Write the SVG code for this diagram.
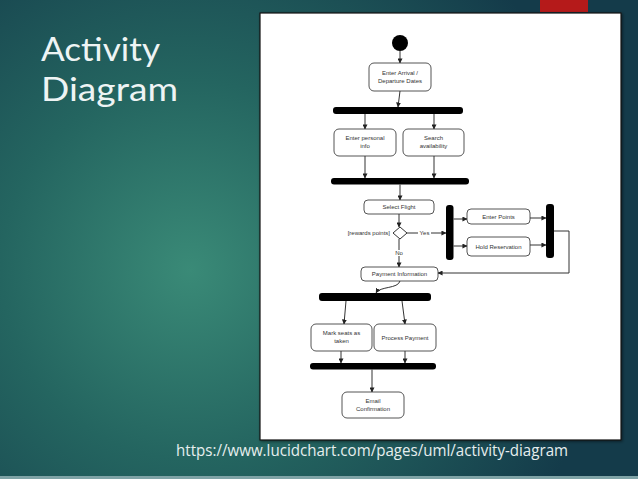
<svg xmlns="http://www.w3.org/2000/svg" width="638" height="479" viewBox="0 0 638 479">
<defs>
<radialGradient id="bg" gradientUnits="userSpaceOnUse" cx="190" cy="270" r="420">
<stop offset="0" stop-color="#3a8a77"/>
<stop offset="0.45" stop-color="#246560"/>
<stop offset="1" stop-color="#143b4a"/>
</radialGradient>
<marker id="ar" viewBox="0 0 6 6" refX="5.5" refY="3" markerWidth="5" markerHeight="5" orient="auto" markerUnits="userSpaceOnUse">
<path d="M0,0 L6,3 L0,6 Z" fill="#222"/>
</marker>
<filter id="sh" x="-5%" y="-5%" width="110%" height="110%">
<feDropShadow dx="1" dy="1" stdDeviation="1.5" flood-color="#000" flood-opacity="0.5"/>
</filter>
</defs>
<style>
.title{font-family:Lato,"Open Sans",sans-serif;font-size:33px;fill:#eef4f4}
.url{font-family:"Open Sans","Noto Sans",sans-serif;font-size:16px;fill:#e6eeee}
.box{fill:#fff;stroke:#555;stroke-width:1}
.bar{fill:#000}
.t{font-family:"Liberation Sans",Arial,sans-serif;font-size:6px;fill:#333;text-anchor:middle}
.lbl{font-family:"Liberation Sans",Arial,sans-serif;font-size:6px;fill:#333}
.c{fill:none;stroke:#333;stroke-width:1}
</style>
<rect x="0" y="0" width="638" height="479" fill="url(#bg)"/>
<rect x="0" y="476" width="638" height="3" fill="#7fa3a6"/>
<rect x="540" y="0" width="48" height="12" fill="#b51a1a"/>
<text class="title" x="41" y="61" textLength="119" lengthAdjust="spacingAndGlyphs">Activity</text>
<text class="title" x="41" y="101" textLength="137" lengthAdjust="spacingAndGlyphs">Diagram</text>
<rect x="260" y="13" width="361" height="427" fill="#fff" stroke="#111" stroke-width="1.2" filter="url(#sh)"/>
<text class="url" x="176" y="456" textLength="392" lengthAdjust="spacingAndGlyphs">https://www.lucidchart.com/pages/uml/activity-diagram</text>

<g id="start"><circle cx="400" cy="43" r="8" fill="#000"/></g>
<g id="enter-dates"><rect class="box" x="369" y="63" width="62" height="28" rx="5"/><text class="t" x="400" y="75">Enter Arrival /</text><text class="t" x="400" y="83">Departure Dates</text></g>
<g id="fork1"><rect class="bar" x="333" y="107" width="130" height="7" rx="3"/></g>
<g id="enter-info"><rect class="box" x="334" y="129" width="62" height="27" rx="5"/><text class="t" x="365" y="140">Enter personal</text><text class="t" x="365" y="148">info</text></g>
<g id="search"><rect class="box" x="403" y="129" width="61" height="27" rx="5"/><text class="t" x="433.5" y="140">Search</text><text class="t" x="433.5" y="148">availability</text></g>
<g id="join1"><rect class="bar" x="331" y="178" width="138" height="6.5" rx="3"/></g>
<g id="select-flight"><rect class="box" x="364" y="200" width="70" height="14" rx="4"/><text class="t" x="399" y="209">Select Flight</text></g>
<g id="decision"><path d="M400,227 L407,233 L400,239 L393,233 Z" fill="#fff" stroke="#333" stroke-width="1"/><text class="lbl" x="390" y="235" text-anchor="end">[rewards points]</text></g>
<g id="fork2"><rect class="bar" x="446" y="205" width="7.5" height="55" rx="3"/></g>
<g id="enter-points"><rect class="box" x="467" y="209" width="63" height="15" rx="4"/><text class="t" x="498.5" y="218.5">Enter Points</text></g>
<g id="hold"><rect class="box" x="467" y="237" width="63" height="19" rx="4"/><text class="t" x="498.5" y="248.5">Hold Reservation</text></g>
<g id="join2"><rect class="bar" x="546" y="204" width="8" height="54" rx="3"/></g>
<g id="payment-info"><rect class="box" x="361" y="267" width="77" height="14" rx="4"/><text class="t" x="399.5" y="276">Payment Information</text></g>
<g id="fork3"><rect class="bar" x="319" y="293" width="112" height="8" rx="3"/></g>
<g id="mark-seats"><rect class="box" x="311" y="324" width="61" height="27" rx="5"/><text class="t" x="341.5" y="335">Mark seats as</text><text class="t" x="341.5" y="343">taken</text></g>
<g id="process-payment"><rect class="box" x="374" y="324" width="62" height="27" rx="5"/><text class="t" x="405" y="339.5">Process Payment</text></g>
<g id="join3"><rect class="bar" x="310" y="363" width="126" height="6.5" rx="3"/></g>
<g id="email"><rect class="box" x="342" y="392" width="62" height="26" rx="5"/><text class="t" x="373" y="403">Email</text><text class="t" x="373" y="411">Confirmation</text></g>

<g id="connectors">
<path class="c" d="M400,51 L400,63" marker-end="url(#ar)"/>
<path class="c" d="M400,91 L398,107" marker-end="url(#ar)"/>
<path class="c" d="M365,114 L365,129" marker-end="url(#ar)"/>
<path class="c" d="M434,114 L434,129" marker-end="url(#ar)"/>
<path class="c" d="M365,156 L365,178" marker-end="url(#ar)"/>
<path class="c" d="M434,156 L434,178" marker-end="url(#ar)"/>
<path class="c" d="M400,184.5 L400,200" marker-end="url(#ar)"/>
<path class="c" d="M399,214 L399,227" marker-end="url(#ar)"/>
<path class="c" d="M407,233 L446,233" marker-end="url(#ar)"/>
<rect x="418" y="230" width="13" height="6" fill="#fff"/>
<text class="lbl" x="424.5" y="235" text-anchor="middle">Yes</text>
<path class="c" d="M453.5,219 L467,219" marker-end="url(#ar)"/>
<path class="c" d="M453.5,246 L467,246" marker-end="url(#ar)"/>
<path class="c" d="M530,218 L546,218" marker-end="url(#ar)"/>
<path class="c" d="M530,245 L546,245" marker-end="url(#ar)"/>
<path class="c" d="M554,231 L569,231 L569,273 L438,273" marker-end="url(#ar)"/>
<path class="c" d="M399,239 L399,267" marker-end="url(#ar)"/>
<rect x="394" y="250" width="10" height="6" fill="#fff"/>
<text class="lbl" x="399" y="255" text-anchor="middle">No</text>
<path class="c" d="M400,281 C398,289 380,286 376,293" marker-end="url(#ar)"/>
<path class="c" d="M346,301 L344,324" marker-end="url(#ar)"/>
<path class="c" d="M402,301 L405,324" marker-end="url(#ar)"/>
<path class="c" d="M341,351 L341,363" marker-end="url(#ar)"/>
<path class="c" d="M405,351 L405,363" marker-end="url(#ar)"/>
<path class="c" d="M372,369.5 L372,392" marker-end="url(#ar)"/>
</g>
</svg>
